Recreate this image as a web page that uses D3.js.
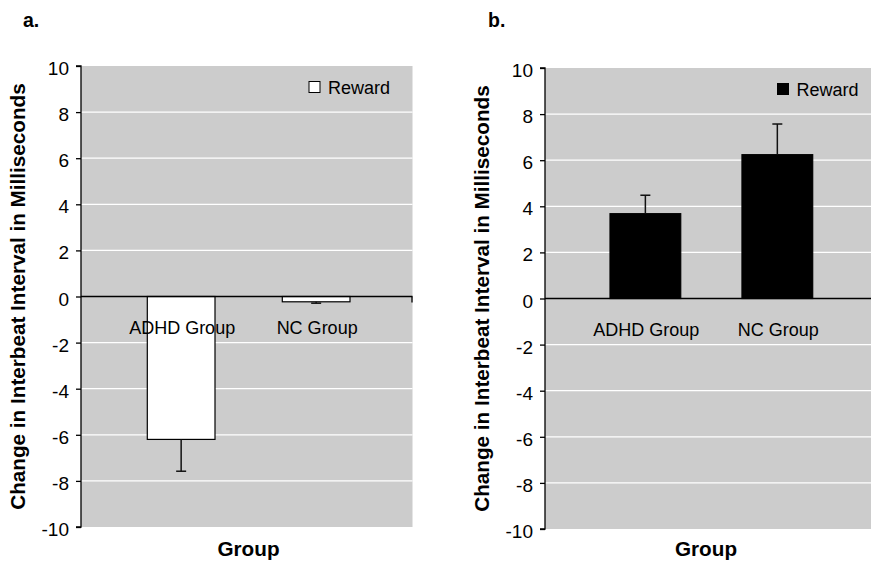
<!DOCTYPE html>
<html>
<head>
<meta charset="utf-8">
<script src="https://cdn.jsdelivr.net/npm/d3@7"></script>
<style>
  html, body { margin: 0; padding: 0; background: #fff; }
  svg { display: block; }
  text { font-family: "Liberation Sans", Arial, sans-serif; fill: #000; }
</style>
</head>
<body>
<svg id="chart" width="871" height="561"></svg>
<script>
// Change in interbeat interval (ms) during reward, by group
const categories = ["ADHD Group", "NC Group"];
const panelAValues = [-6.2, -0.23];   // panel a bars
const panelAErrors = [1.38, 0.06];    // one-sided error bars
const panelBValues = [3.68, 6.24];    // panel b bars
const panelBErrors = [0.8, 1.33];
const yTicks = [-10, -8, -6, -4, -2, 0, 2, 4, 6, 8, 10];
const yDomain = [-10, 10];
const legendLabel = "Reward";
const yTitle = "Change in Interbeat Interval in Milliseconds";
const xTitle = "Group";

const svg = d3.select("#chart");

function drawPanel(cfg) {
  const g = svg.append("g");
  const y = d3.scaleLinear().domain(yDomain).range([cfg.bottom, cfg.top]);
  const x = d3.scaleBand().domain(categories)
    .range(cfg.bandRange).paddingInner(cfg.pad).paddingOuter(0);

  // plot background
  g.append("rect")
    .attr("x", cfg.left).attr("y", cfg.top)
    .attr("width", cfg.right - cfg.left).attr("height", cfg.bottom - cfg.top)
    .attr("fill", "#cccccc");

  // horizontal gridlines
  g.selectAll(".grid").data(yTicks.filter(t => t !== 0 && t !== 10 && t !== -10))
    .enter().append("line")
    .attr("x1", cfg.left).attr("x2", cfg.right)
    .attr("y1", d => y(d)).attr("y2", d => y(d))
    .attr("stroke", "#ffffff").attr("stroke-width", 1.3);

  // bars
  const vals = cfg.values;
  g.selectAll(".bar").data(categories).enter().append("rect")
    .attr("x", d => x(d))
    .attr("width", x.bandwidth())
    .attr("y", (d, i) => y(Math.max(0, vals[i])))
    .attr("height", (d, i) => Math.abs(y(vals[i]) - y(0)))
    .attr("fill", cfg.barFill)
    .attr("stroke", "#000").attr("stroke-width", 1.2);

  // one-sided error bars
  const errs = cfg.errors;
  const capW = 10;
  categories.forEach((c, i) => {
    const cx = x(c) + x.bandwidth() / 2;
    const v = vals[i];
    const end = v + Math.sign(v) * errs[i];
    g.append("line")
      .attr("x1", cx).attr("x2", cx)
      .attr("y1", y(v)).attr("y2", y(end))
      .attr("stroke", "#111").attr("stroke-width", 1.5);
    g.append("line")
      .attr("x1", cx - capW / 2).attr("x2", cx + capW / 2)
      .attr("y1", y(end)).attr("y2", y(end))
      .attr("stroke", "#111").attr("stroke-width", 1.5);
  });

  // zero line (category axis)
  g.append("line")
    .attr("x1", cfg.left).attr("x2", cfg.right)
    .attr("y1", y(0)).attr("y2", y(0))
    .attr("stroke", "#000").attr("stroke-width", 1.3);
  if (cfg.endTick) {
    g.append("line")
      .attr("x1", cfg.right - 0.5).attr("x2", cfg.right - 0.5)
      .attr("y1", y(0)).attr("y2", y(0) + 6)
      .attr("stroke", "#000").attr("stroke-width", 1.3);
  }

  // category labels
  g.selectAll(".cat").data(categories).enter().append("text")
    .attr("x", d => x(d) + x.bandwidth() / 2 + 1)
    .attr("y", y(0) + 37)
    .attr("text-anchor", "middle")
    .style("font-size", "18px")
    .text(d => d);

  // value axis
  const axis = d3.axisLeft(y).tickValues(yTicks).tickFormat(d => String(d))
    .tickSize(5).tickPadding(7);
  const ag = g.append("g").attr("transform", `translate(${cfg.left},0)`).call(axis);
  ag.select(".domain").attr("stroke", "#000").attr("stroke-width", 1.3)
    .attr("d", `M-5,${cfg.top}H0V${cfg.bottom}H-5`);
  ag.selectAll(".tick line").attr("stroke", "#000").attr("stroke-width", 1.3);
  ag.selectAll(".tick text")
    .style("font-family", "'Liberation Sans', Arial, sans-serif")
    .style("font-size", "19px").attr("fill", "#000").attr("dy", "0.45em");

  // axis titles
  g.append("text")
    .attr("transform", `translate(${cfg.yTitleX},${(cfg.top + cfg.bottom) / 2}) rotate(-90)`)
    .attr("text-anchor", "middle")
    .style("font-size", "20.7px").style("font-weight", "bold")
    .text(yTitle);
  g.append("text")
    .attr("x", cfg.xTitleX).attr("y", 556)
    .attr("text-anchor", "middle")
    .style("font-size", "20.7px").style("font-weight", "bold")
    .text(xTitle);

  // panel letter
  g.append("text")
    .attr("x", cfg.letterX).attr("y", 27)
    .style("font-size", "19.5px").style("font-weight", "bold")
    .text(cfg.letter);

  // legend
  g.append("rect")
    .attr("x", cfg.legendX).attr("y", cfg.top + 15.5)
    .attr("width", 11).attr("height", 11)
    .attr("fill", cfg.barFill).attr("stroke", "#000").attr("stroke-width", 1);
  g.append("text")
    .attr("x", cfg.legendX + 19).attr("y", cfg.top + 27.5)
    .style("font-size", "18px")
    .text(legendLabel);
}

drawPanel({
  letter: "a.", letterX: 23,
  left: 81, right: 412.5, top: 66, bottom: 527,
  bandRange: [147.3, 350], pad: 0.4985,
  values: panelAValues, errors: panelAErrors,
  barFill: "#ffffff", endTick: true,
  yTitleX: 25, xTitleX: 248.5, legendX: 309
});

drawPanel({
  letter: "b.", letterX: 488,
  left: 545, right: 876, top: 68, bottom: 529,
  bandRange: [610, 812.7], pad: 0.464,
  values: panelBValues, errors: panelBErrors,
  barFill: "#000000", endTick: false,
  yTitleX: 489, xTitleX: 706, legendX: 777.5
});
</script>
</body>
</html>
